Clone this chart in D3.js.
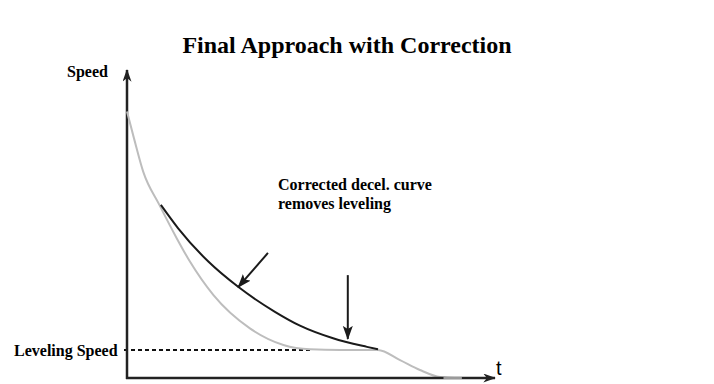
<!DOCTYPE html>
<html>
<head>
<meta charset="utf-8">
<script src="https://cdn.jsdelivr.net/npm/d3@7/dist/d3.min.js"></script>
<style>
  html, body { margin: 0; padding: 0; background: #fff; }
  svg { display: block; }
</style>
</head>
<body>
<svg id="chart" width="714" height="384"></svg>
<script>
// ---- Data (time t: 0..100, speed v: 0..100) ----
const originalTime  = [0, 1.9, 4.4, 8.8, 13.5, 17.1, 23.5, 33.4, 42.5, 49.7, 58.0, 68.2, 74.2, 79.6, 85.1, 89.1, 91.0];
const originalSpeed = [86.5, 77.8, 67.0, 56.2, 45.4, 37.8, 26.9, 16.1, 10.7, 9.3, 9.1, 9.1, 5.8, 2.6, 0.3, 0, 0];

const correctedTime  = [9.2, 13.9, 22.1, 30.2, 40.2, 47.0, 56.0, 65.2, 68.2];
const correctedSpeed = [56.2, 48.6, 37.8, 29.6, 21.5, 17.0, 12.9, 10.1, 9.3];

const levelingSpeed = 9.1;
const levelingEndTime = 50.0;

const titleText = "Final Approach with Correction";
const yAxisLabel = "Speed";
const xAxisLabel = "t";
const levelLabel = "Leveling Speed";
const noteLines = ["Corrected decel. curve", "removes leveling"];

// annotation arrows (data units)
const arrowFromT = [38.3, 60.0];
const arrowFromV = [40.6, 33.4];
const arrowToT   = [30.2, 60.0];
const arrowToV   = [29.5, 12.7];

// ---- Drawing ----
const svg = d3.select("#chart");
const x = d3.scaleLinear().domain([0, 100]).range([127, 495]);
const y = d3.scaleLinear().domain([0, 100]).range([378, 70]);

const defs = svg.append("defs");
defs.append("marker")
  .attr("id", "axisHead").attr("viewBox", "0 0 14 10")
  .attr("refX", 13).attr("refY", 5)
  .attr("markerWidth", 14).attr("markerHeight", 9)
  .attr("markerUnits", "userSpaceOnUse").attr("orient", "auto")
  .append("path").attr("d", "M0,0 L14,5 L0,10 L4,5 Z").attr("fill", "#222");
defs.append("marker")
  .attr("id", "noteHead").attr("viewBox", "0 0 14 10")
  .attr("refX", 13).attr("refY", 5)
  .attr("markerWidth", 14).attr("markerHeight", 11)
  .attr("markerUnits", "userSpaceOnUse").attr("orient", "auto")
  .append("path").attr("d", "M0,0 L14,5 L0,10 L3,5 Z").attr("fill", "#1a1a1a");

const serif = "'Liberation Serif', 'Times New Roman', serif";

// Title
svg.append("text").attr("x", 347).attr("y", 53)
  .attr("text-anchor", "middle").attr("font-family", serif)
  .attr("font-weight", "bold").attr("font-size", 24).attr("fill", "#000")
  .text(titleText);

// Leveling dashed line
svg.append("line")
  .attr("x1", x(0) - 3).attr("x2", x(levelingEndTime))
  .attr("y1", y(levelingSpeed)).attr("y2", y(levelingSpeed))
  .attr("stroke", "#111").attr("stroke-width", 2)
  .attr("stroke-dasharray", "4,3");

// Axes
svg.append("line")
  .attr("x1", x(0)).attr("x2", x(0)).attr("y1", y(0) + 1).attr("y2", y(100))
  .attr("stroke", "#222").attr("stroke-width", 2.5)
  .attr("marker-end", "url(#axisHead)");

const lineGen = d3.line().x(d => x(d[0])).y(d => y(d[1])).curve(d3.curveMonotoneX);

// Original gray curve
const orig = originalTime.map((t, i) => [t, originalSpeed[i]]);
svg.append("path").datum(orig)
  .attr("d", lineGen).attr("fill", "none")
  .attr("stroke", "#bdbdbd").attr("stroke-width", 2);

svg.append("line")
  .attr("x1", x(0) - 1).attr("x2", x(100)).attr("y1", y(0)).attr("y2", y(0))
  .attr("stroke", "#222").attr("stroke-width", 2.5)
  .attr("marker-end", "url(#axisHead)");
// light overlay where the gray curve runs along the axis
svg.append("line")
  .attr("x1", x(86)).attr("x2", x(91)).attr("y1", y(0)).attr("y2", y(0))
  .attr("stroke", "#9a9a9a").attr("stroke-width", 2);

// Corrected black curve
const corr = correctedTime.map((t, i) => [t, correctedSpeed[i]]);
svg.append("path").datum(corr)
  .attr("d", lineGen).attr("fill", "none")
  .attr("stroke", "#1a1a1a").attr("stroke-width", 2);

// Annotation arrows
arrowFromT.forEach((t, i) => {
  svg.append("line")
    .attr("x1", x(t)).attr("y1", y(arrowFromV[i]))
    .attr("x2", x(arrowToT[i])).attr("y2", y(arrowToV[i]))
    .attr("stroke", "#1a1a1a").attr("stroke-width", 2)
    .attr("marker-end", "url(#noteHead)");
});

// Labels
svg.append("text").attr("x", 67).attr("y", 77)
  .attr("font-family", serif).attr("font-weight", "bold").attr("font-size", 16)
  .text(yAxisLabel);
svg.append("text").attr("x", 14).attr("y", 356)
  .attr("font-family", serif).attr("font-weight", "bold").attr("font-size", 16)
  .text(levelLabel);
svg.append("text").attr("x", 496).attr("y", 375)
  .attr("font-family", "'Liberation Sans', Arial, sans-serif").attr("font-size", 20)
  .text(xAxisLabel);
noteLines.forEach((s, i) => {
  svg.append("text").attr("x", 278).attr("y", 190 + i * 19)
    .attr("font-family", serif).attr("font-weight", "bold").attr("font-size", 16)
    .text(s);
});
</script>
</body>
</html>
